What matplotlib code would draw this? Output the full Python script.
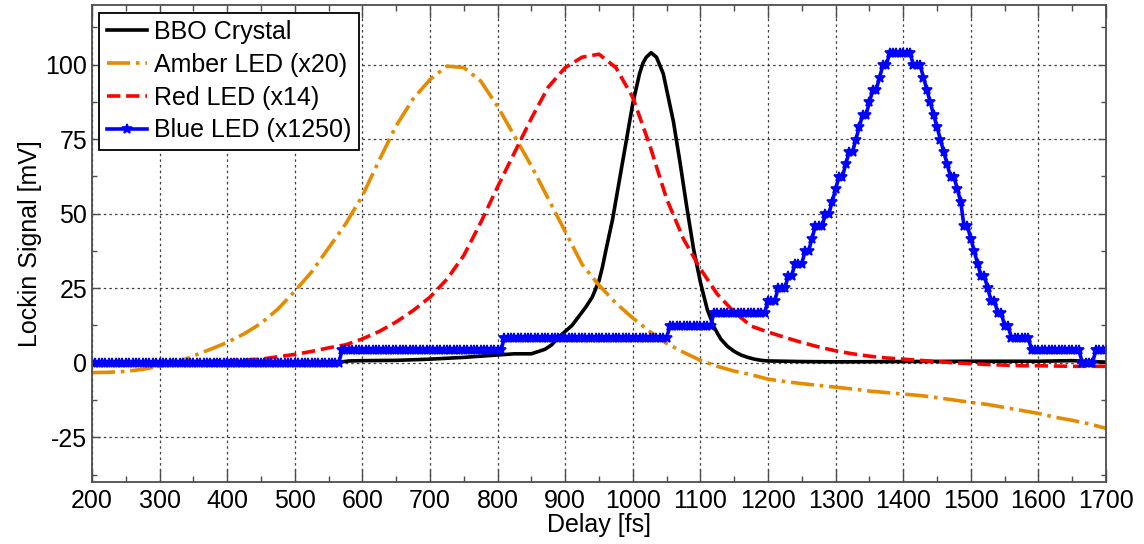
import numpy as np
import matplotlib
matplotlib.use("Agg")
import matplotlib.pyplot as plt
from matplotlib.ticker import MultipleLocator

plt.rcParams['font.family'] = ['Liberation Sans', 'DejaVu Sans']
plt.rcParams['axes.unicode_minus'] = False

# BBO crystal cross-correlation (mV)
bbo_delay = [200, 300, 400, 500, 560, 580, 600, 650, 700, 750, 800, 825, 850,
             870, 880, 890, 900, 910, 920, 930, 940, 950, 955, 960, 970, 980,
             990, 1000, 1010, 1015, 1020, 1027, 1035, 1045, 1060, 1070, 1080,
             1090, 1100, 1110, 1120, 1130, 1140, 1150, 1160, 1170, 1180, 1190,
             1200, 1250, 1300, 1400, 1500, 1600, 1650, 1700]
bbo_signal = [0, 0, 0, 0, 0, 0.6, 0.7, 0.8, 1.2, 1.8, 2.6, 3.0, 3.0,
              4.5, 6.0, 8.5, 10.5, 12.5, 15.5, 18.5, 22, 27.5, 32, 37.5, 48, 61,
              74, 87, 97, 100.5, 102.5, 104, 102.5, 97, 81, 67, 52,
              38, 27, 18, 12, 8, 5.5, 3.8, 2.6, 1.8, 1.2, 0.8,
              0.6, 0.4, 0.3, 0.4, 0.5, 0.5, 0.7, 0.2]

# LED signals sampled every 25 fs
led_delay = list(range(200, 1725, 25))
amber_signal = [-3.3, -3.2, -2.9, -2.2, -1.2, 0.0, 2.3, 4.5, 6.8, 9.7,
                13.2, 18.0, 24, 30.5, 38.5, 46.5, 56, 68, 79.5, 88.5,
                95, 99.5, 99, 94.5, 86, 76, 66, 55, 44, 33,
                26, 20, 15, 10.5, 6.5, 3.5, 0.8, -1.2, -2.8, -4,
                -5.5, -6.3, -7, -7.6, -8.2, -8.8, -9.5, -10, -10.5, -11,
                -11.7, -12.5, -13.3, -14, -15, -16, -17, -18.3, -19.3, -20.5,
                -22]
red_signal = [0, 0, 0, 0, 0.1, 0.2, 0.3, 0.5, 0.7, 0.9,
              1.2, 2.0, 2.8, 3.8, 5.0, 6.0, 8.0, 10.5, 13.7, 17.5,
              22, 28, 36, 47, 59, 70.5, 82, 92.5, 99, 102.5,
              103.5, 99, 89, 73, 55, 41.5, 31.5, 23, 17, 12.3,
              10.3, 8.5, 6.8, 5.3, 4.0, 3.0, 2.2, 1.6, 1.2, 0.8,
              0.4, 0.0, -0.3, -0.6, -0.8, -1.0, -1.0, -1.1, -1.2, -1.2,
              -1.2]

# Blue LED: lock-in output is quantised, stored as integer steps every 5 fs
blue_step = 4.16
blue_delay = np.arange(200, 1705, 5)
blue_level = [
    0, 0, 0, 0, 0, 0, 0, 0, 0, 0,          # 200
    0, 0, 0, 0, 0, 0, 0, 0, 0, 0,          # 250
    0, 0, 0, 0, 0, 0, 0, 0, 0, 0,          # 300
    0, 0, 0, 0, 0, 0, 0, 0, 0, 0,          # 350
    0, 0, 0, 0, 0, 0, 0, 0, 0, 0,          # 400
    0, 0, 0, 0, 0, 0, 0, 0, 0, 0,          # 450
    0, 0, 0, 0, 0, 0, 0, 0, 0, 0,          # 500
    0, 0, 0, 0, 1, 1, 1, 1, 1, 1,          # 550
    1, 1, 1, 1, 1, 1, 1, 1, 1, 1,          # 600
    1, 1, 1, 1, 1, 1, 1, 1, 1, 1,          # 650
    1, 1, 1, 1, 1, 1, 1, 1, 1, 1,          # 700
    1, 1, 1, 1, 1, 1, 1, 1, 1, 1,          # 750
    1, 1, 2, 2, 2, 2, 2, 2, 2, 2,          # 800
    2, 2, 2, 2, 2, 2, 2, 2, 2, 2,          # 850
    2, 2, 2, 2, 2, 2, 2, 2, 2, 2,          # 900
    2, 2, 2, 2, 2, 2, 2, 2, 2, 2,          # 950
    2, 2, 2, 2, 2, 2, 2, 2, 2, 2,          # 1000
    2, 3, 3, 3, 3, 3, 3, 3, 3, 3,          # 1050
    3, 3, 3, 3, 4, 4, 4, 4, 4, 4,          # 1100
    4, 4, 4, 4, 4, 4, 4, 4, 4, 4,          # 1150
    5, 5, 5, 6, 6, 6, 7, 7, 8, 8,          # 1200
    8, 9, 9, 10, 11, 11, 11, 12, 12, 13,   # 1250
    14, 15, 15, 16, 17, 17, 18, 19, 20, 20,  # 1300
    21, 22, 22, 23, 24, 24, 25, 25, 25, 25,  # 1350
    25, 25, 25, 24, 24, 24, 23, 22, 21, 20,  # 1400
    19, 18, 17, 16, 15, 15, 14, 13, 11, 11,  # 1450
    10, 9, 8, 7, 7, 6, 5, 5, 4, 4,         # 1500
    3, 3, 2, 2, 2, 2, 2, 2, 1, 1,          # 1550
    1, 1, 1, 1, 1, 1, 1, 1, 1, 1,          # 1600
    1, 1, 1, 0, 0, 0, 0, 1, 1, 1,          # 1650
    1,                                     # 1700
]
blue_signal = np.array(blue_level) * blue_step

fig = plt.figure(figsize=(11.44, 5.44), dpi=100)
ax = fig.add_axes([0.0804, 0.114, 0.8864, 0.8768])

lw = 2.6
ax.plot(bbo_delay, bbo_signal, color='black', lw=lw, label='BBO Crystal')
ax.plot(led_delay, amber_signal, color='#E68A00', lw=lw, linestyle='-.',
        label='Amber LED (x20)')
ax.plot(led_delay, red_signal, color='#FF0000', lw=lw, linestyle='--',
        label='Red LED (x14)')
ax.plot(blue_delay, blue_signal, color='#0000FF', lw=lw, marker='*',
        markersize=7, markeredgewidth=1.2, label='Blue LED (x1250)')

ax.set_xlim(200, 1700)
ax.set_ylim(-40, 120)
ax.xaxis.set_major_locator(MultipleLocator(100))
ax.xaxis.set_minor_locator(MultipleLocator(50))
ax.yaxis.set_minor_locator(MultipleLocator(12.5))
ax.set_yticks([-25, 0, 25, 50, 75, 100])

ax.grid(True, which='major', color='0.25', linestyle=(0, (2, 2.5)), lw=0.9)
ax.tick_params(which='both', direction='in', top=True, right=True,
               labelsize=18, colors='0.3', labelcolor='black')
ax.tick_params(axis='x', which='major', length=9.5, width=1.0, pad=5)
ax.tick_params(axis='x', which='minor', length=4.5, width=1.0)
ax.tick_params(axis='y', which='major', length=6, width=1.0)
ax.tick_params(axis='y', which='minor', length=3.5, width=1.0)
for sp in ax.spines.values():
    sp.set_color('0.3')
    sp.set_linewidth(1.3)

ax.set_xlabel('Delay [fs]', fontsize=18, labelpad=0)
ax.set_ylabel('Lockin Signal [mV]', fontsize=18, labelpad=2)

leg = ax.legend(loc='upper left', fontsize=18, frameon=True, fancybox=False,
                edgecolor='black', framealpha=1, labelspacing=0.35,
                borderpad=0.3, handlelength=1.6, handletextpad=0.3,
                borderaxespad=0.3)
leg.get_frame().set_linewidth(1.3)

fig.savefig('out.png', dpi=100)
